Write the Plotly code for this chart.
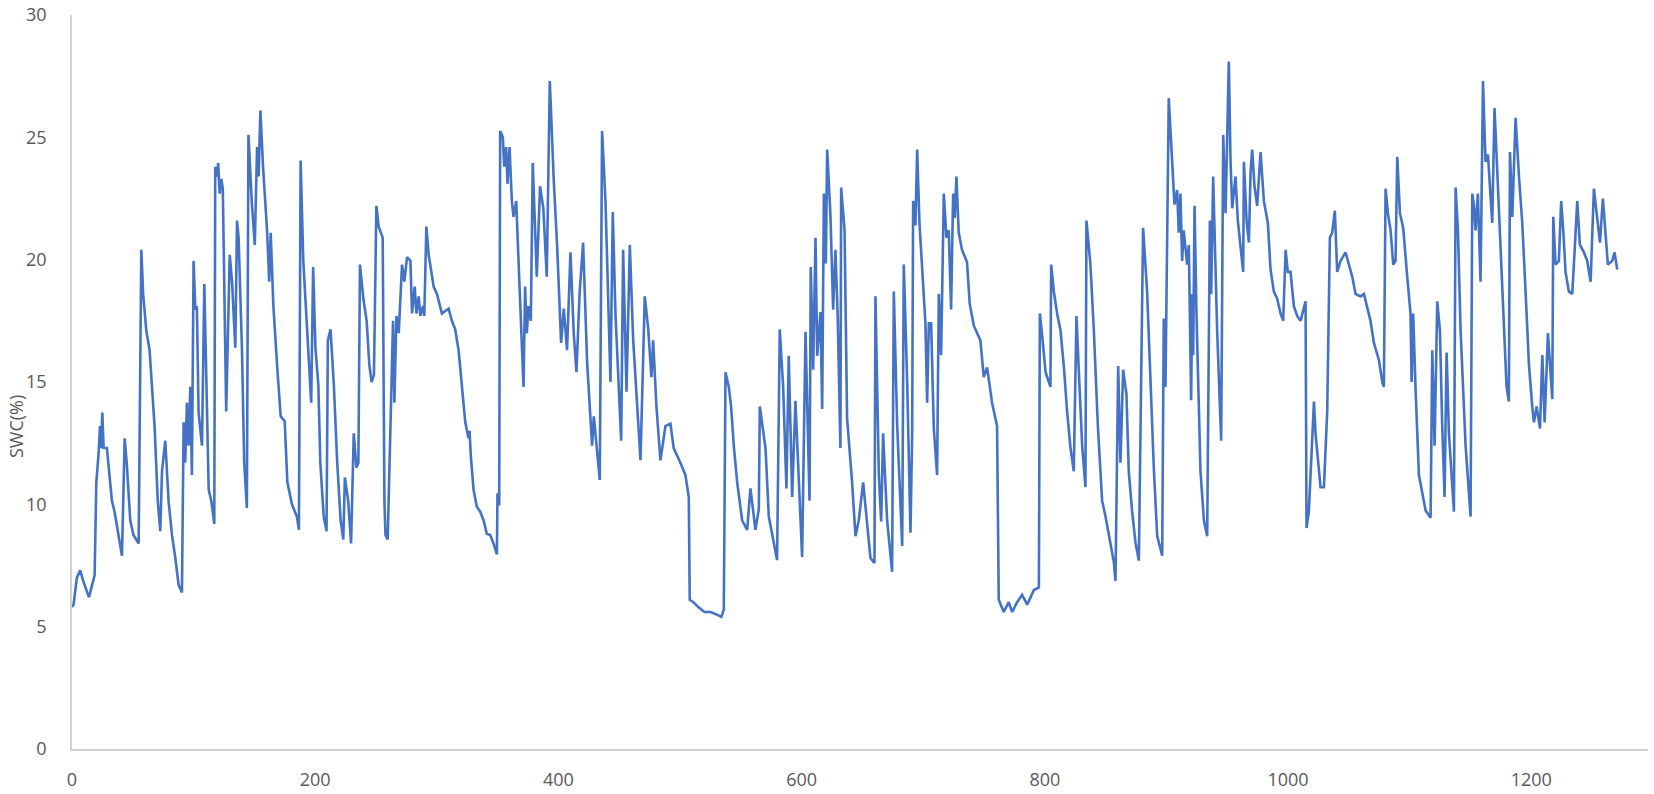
import plotly.graph_objects as go

#------------------------------------------------------------
#                          DATA
#------------------------------------------------------------
# values (day index, soil water content %)

day = [0, 1.3, 4, 6.8, 9, 12.3, 14, 16.5, 18.6, 20, 21.9, 23, 24, 24.9, 26, 28.7, 31, 32.8, 35, 38.3,
       41.1, 43.3, 45, 47.9, 50.5, 54.8, 57, 58.5, 61.1, 63.8, 67.9, 70.5, 72.6, 74, 76.7, 79.4, 82.2, 85,
       87.7, 90.4, 91.8, 93.1, 94.5, 95.9, 97.3, 98.6, 100, 101.4, 102.7, 104.1, 106.9, 108.8, 112.4, 114.5,
       117, 117.8, 119, 120.2, 121.4, 122.8, 124, 126.8, 129.7, 131.6, 134.3, 135.7, 137, 139.8, 141.6,
       143.8, 145.1, 147.8, 150.3, 152.2, 153.5, 154.9, 157.1, 160.4, 162.2, 163.4, 165.6, 168.9, 171.6,
       174.9, 177.1, 180.9, 184.9, 186.6, 188, 190.2, 192, 194.7, 196.7, 198.3, 200.2, 202.6, 204.2, 207,
       209.3, 210.4, 212.6, 215.4, 218.1, 220.9, 223.1, 224.4, 227.1, 229.5, 231.7, 233.9, 235.5, 236.8,
       239.6, 242.3, 244.5, 246.4, 248.3, 250.3, 252.2, 255.5, 256.9, 257.8, 259.6,
       264, 265.1, 266.8, 268.7, 271.4, 273.3, 275.5, 278.3, 279.6, 281.8, 283.2, 285.1, 286.4, 288.6,
       289.7, 291.4, 293.3, 297.4, 300.1, 302.8, 304.2, 306.9, 309.7, 312.4, 315.1, 317.9, 320.6, 323.4,
       326.1, 326.9, 328, 330.2, 332.9, 335.7, 338.4, 341.1, 343.9, 346.6, 349.4, 349.9, 351.3, 352.1,
       354.3, 355.4, 357, 358.1, 359.8, 361.7, 363.1, 365.3, 367.2, 368.5, 369.9, 371.3, 372.6, 374,
       375.4, 377.3, 378.9, 380.8, 382.2, 384.9, 387.6, 390.4, 392.9, 396.2, 398.9, 402.2, 404.4, 407.1,
       409.9, 412.6, 414.8, 417.5, 420.3, 423.6, 427.7, 429.1, 434, 435.9, 438.7, 442.8, 444.7, 446.9,
       451.6, 453.2, 456, 458.7, 461.5, 467.5, 471, 473.8, 476.5, 477.9, 480.6, 483.9, 488, 492.1, 494.8,
       500.3, 504.4, 507.2, 508, 511, 515, 520, 525, 530, 534, 536,
       537.4, 540.1, 542, 544.2, 547, 551.1, 555.2, 557.9, 562, 564.8, 565.6, 570.3, 573, 579.8, 582,
       584.8, 587.5, 589.4, 592.2, 594.9, 600.4, 603.2, 606.5, 607.5, 609.5, 611.4, 612.8, 615.5, 616.9,
       618.3, 619.9, 621, 623.7, 625.9, 627.8, 629.7, 631.9, 632.5, 635.3, 637.4, 641.5, 644.3, 647,
       650.6, 653.9, 656.6, 658, 659.9, 660.7, 663.5, 665.4, 667, 670.3, 674.4, 675.8, 678.6, 682.7, 684,
       686.8, 689.5, 690.9, 691.7, 693.6, 695, 696.9, 699.1, 701.8, 703.2, 704.6, 706.5, 708.7, 711.4,
       712.8, 714.7, 716.9, 719.1, 721, 722.9, 724.6, 725.9, 727.3, 729.2, 731.9, 736, 738.2, 741.6,
       744.3, 747, 749.8, 752.5, 756.6, 760.7, 762.1, 766.2, 770.3, 773.1, 777.2, 781.3, 785.5, 791,
       795.1, 795.9, 797.8, 800.6, 804.6, 805.2, 807.4, 810.1, 812.9, 815.6, 818.3, 821.1, 823.8, 826,
       827.9, 830.7, 833.4, 834.2, 837.5, 840.3, 843.6, 847.1, 849.9, 852.6, 856.7, 858.1, 860.3, 862.2,
       864.4, 867.1, 869, 871.8, 874.5, 877.3, 880.8, 884.1, 886.9, 889.6, 892.4, 896.5, 897.8, 899.2,
       901.9, 904.7, 906.6, 908.8, 910.1, 911.5, 912.9, 914.2, 917, 918.4, 919.7,
       920.3, 921.2, 922, 923.1, 924.7, 928, 930.8, 933.5, 935.7, 936.8, 938.4, 941.7, 945, 946.7, 948.6,
       951.3, 952.7, 954.1, 956.8, 958.7, 960.9, 963.1, 963.7, 965.9, 967.8, 969.2, 970.5, 972.4, 974.6,
       977.4, 980.1, 983.4, 985.6, 988.3, 991.1, 993.8, 996, 998, 999.8, 1002, 1004.8, 1007.5, 1010.3,
       1013, 1014.4, 1015.2, 1017.1, 1021.3, 1022.6, 1026.7, 1029.5, 1032.2, 1034.4, 1036.3, 1038.5,
       1040.4, 1043.2, 1047.3,
       1052.8, 1055.5, 1059.6, 1062.4, 1065.1, 1067.8, 1070.6, 1074.7, 1077.5, 1078.8, 1080.2, 1082.1,
       1084.3, 1086.5, 1088.4, 1089.8, 1092, 1094.7, 1098, 1100.7, 1101.6, 1102.9, 1104.8, 1107.6, 1113.1,
       1117.2, 1118.6, 1120.5, 1122.7, 1124.9, 1126.8, 1128.7, 1130.4, 1132.3, 1136.4, 1137.8, 1139.7,
       1141.9, 1146, 1150.1, 1151.5, 1152.8, 1154.2, 1156.1, 1158.3, 1160.3, 1162.4, 1164.4, 1166.5,
       1167.9, 1169.8, 1172, 1174.8, 1177.5, 1179.7, 1181.6,
       1182.5, 1184.4, 1185.8, 1187.1, 1189.9, 1192.6, 1195.4, 1198.1, 1200.8, 1202.2, 1204.4, 1207.2,
       1209.1, 1211, 1213.7, 1217.3, 1218.1, 1220, 1222.7, 1224.6, 1226.3, 1228.2, 1230.9, 1233.7, 1235.6,
       1237.8, 1240, 1243.3, 1246, 1248.8, 1251.5, 1254.3, 1256.5, 1258.9, 1261.1, 1263, 1266.6, 1268.5,
       1270.7]

swc = [5.8, 5.9, 7.0, 7.3, 6.9, 6.4, 6.2, 6.7, 7.1, 10.9, 12.1, 13.2, 12.3, 13.75, 12.3, 12.3, 10.9, 10.15, 9.7, 8.75,
       7.9, 12.7, 11.7, 9.35, 8.75, 8.4, 20.4, 18.6, 17.1, 16.3, 13.2, 10.15, 8.9, 11.35, 12.6, 10.15, 8.75, 7.8,
       6.7, 6.4, 13.35, 11.7, 14.15, 12.4, 14.8, 11.2, 19.95, 17.96, 18.1, 13.75, 12.4, 19.0, 10.6, 10.15,
       9.2, 23.8, 23.4, 23.95, 22.7, 23.3, 22.9, 13.8, 20.2, 19.1, 16.4, 21.6, 20.9, 16.3, 11.7,
       9.85, 25.1, 22.4, 20.6, 24.6, 23.4, 26.1, 23.8, 21.2, 19.1, 21.1, 18.1, 15.5, 13.6,
       13.4, 10.9, 10.0, 9.5, 8.96, 24.05, 19.95, 18.4, 16.3, 14.15, 19.7, 16.4, 14.85, 11.7, 9.5,
       8.9, 16.7, 17.15, 14.8, 11.7, 9.35, 8.56, 11.1, 10.15, 8.4, 12.9, 11.5, 11.7, 19.8,
       18.4, 17.5, 15.7, 15.0, 15.3, 22.2, 21.35, 20.9, 10.15, 8.75, 8.56,
       17.5, 14.15, 17.7, 17.0, 19.8, 19.1, 20.1, 19.95, 17.8, 18.9, 17.8, 18.5, 17.7, 18.1,
       17.7, 21.35, 20.2, 18.9, 18.6, 18.1, 17.8, 17.9, 18.0, 17.5, 17.15, 16.3, 14.8, 13.35,
       12.7, 13.0, 11.95, 10.6, 9.9, 9.7, 9.35, 8.8, 8.75, 8.4, 7.95, 10.45, 9.95, 25.26,
       25.0, 23.8, 24.6, 23.1, 24.6, 22.4, 21.75, 22.4, 19.95, 18.1, 16.6, 14.8, 18.9, 17.0,
       18.1, 17.5, 23.95, 20.9, 19.3, 23.0, 22.1, 19.3, 27.3, 23.2, 20.6, 16.6, 18.0, 16.3,
       20.3, 17.0, 15.4, 18.7, 20.7, 15.8, 12.4, 13.6, 11.0, 25.26, 22.4, 15.0, 21.95, 17.8,
       12.6, 20.4, 14.6, 20.6, 16.7, 11.8, 18.5, 17.2, 15.2, 16.7, 14.0, 11.8, 13.2, 13.3, 12.3,
       11.7, 11.2, 10.3, 6.1, 6.0, 5.8, 5.6, 5.6, 5.5, 5.4, 5.7,
       15.4, 14.8, 14.0, 12.4, 10.9, 9.35, 8.96, 10.65, 8.96, 9.8, 14.0, 12.3, 9.5, 7.72, 17.15,
       14.8, 10.65, 16.07, 10.3, 14.23, 7.85, 17.05, 10.15, 19.7, 15.5, 20.9, 16.07, 17.86, 13.9,
       22.7, 19.84, 24.5, 21.8, 17.96, 20.4, 17.6, 12.3, 22.95, 21.2, 13.5, 10.9, 8.7, 9.35,
       10.9, 9.1, 7.8, 7.72, 7.6, 18.5, 11.2, 9.3, 12.9, 9.35, 7.24, 18.7, 13.2, 8.3, 19.8,
       15.0, 8.84, 12.9, 22.4, 21.4, 24.5, 21.5, 19.8, 17.4, 14.15, 17.4, 17.4, 13.1, 11.2,
       18.6, 16.1, 22.7, 20.9, 21.2, 17.96, 22.7, 21.7, 23.4, 21.1, 20.4, 19.9, 18.2, 17.3,
       17.0, 16.7, 15.2, 15.6, 14.15, 13.2, 6.1, 5.6, 6.0, 5.6, 6.0, 6.3, 5.9, 6.5,
       6.6, 17.8, 16.9, 15.4, 14.8, 19.8, 18.7, 17.8, 17.1, 15.65, 13.8, 12.3, 11.35, 17.7,
       15.5, 12.4, 10.7, 21.6, 19.8, 17.1, 13.2, 10.15, 9.5, 8.7, 7.65, 6.87, 15.65, 11.7,
       15.5, 14.5, 11.35, 9.7, 8.45, 7.7, 21.3, 18.7, 15.0, 11.5, 8.7, 7.9, 17.6, 14.8,
       26.6, 23.95, 22.25, 22.85, 21.1, 22.7, 19.95, 21.2, 19.8, 20.6, 14.3,
       14.25, 18.6, 16.1, 22.2, 17.8, 11.35, 9.35, 8.7, 21.6, 18.6, 23.4, 17.1, 12.6, 25.1, 21.9,
       28.1, 24.0, 22.1, 23.4, 21.6, 20.4, 19.5, 24.0, 21.6, 20.7, 23.6, 24.5, 23.0, 22.2,
       24.4, 22.4, 21.5, 19.6, 18.7, 18.4, 17.8, 17.5, 20.4, 19.5, 19.5, 18.1, 17.7, 17.5,
       18.1, 18.3, 9.03, 9.7, 14.2, 12.9, 10.7, 10.7, 13.8, 20.9, 21.1, 22.0,
       19.5, 19.95, 20.3,
       19.3, 18.6, 18.5, 18.6, 18.1, 17.5, 16.6, 15.9, 15.0, 14.8, 22.9, 21.9,
       21.2, 19.8, 19.95, 24.2, 21.9, 21.3, 19.3, 17.8, 15.0, 17.8, 14.8, 11.2, 9.75,
       9.45, 16.3, 12.4, 18.3, 17.1, 13.2, 10.3, 16.2, 12.9, 9.7, 22.95, 21.2,
       17.1, 12.4, 9.5, 22.7, 22.25, 21.2, 22.7, 19.1, 27.3, 24.0, 24.3, 22.6,
       21.5, 26.2, 23.6, 20.9, 17.8, 14.8, 14.2,
       24.4, 21.75, 24.0, 25.8, 23.4, 21.5, 18.6, 15.7, 14.0, 13.35, 14.0, 13.1,
       16.1, 13.35, 17.0, 14.3, 21.75, 19.8, 19.95, 22.4, 21.2, 19.5, 18.7, 18.6, 20.3,
       22.4, 20.6, 20.3, 19.95, 19.1, 22.9, 21.5, 20.7, 22.5, 20.9, 19.8, 19.95, 20.3,
       19.6]

x_ticks = [0, 200, 400, 600, 800, 1000, 1200]
y_ticks = [0, 5, 10, 15, 20, 25, 30]
y_title = 'SWC(%)'

#------------------------------------------------------------
#                       PLOTTING
#------------------------------------------------------------
font_family = "Open Sans, Liberation Sans, sans-serif"
grey_text = '#595959'
axis_grey = '#d0d0d0'

fig = go.Figure()

fig.add_trace(go.Scatter(
    x=day,
    y=swc,
    mode='lines',
    line=dict(color='#4472C4', width=2.6),
    showlegend=False,
))

fig.update_layout(
    width=1654,
    height=794,
    plot_bgcolor='white',
    paper_bgcolor='white',
    margin=dict(l=72, r=6, t=15, b=45),
    font=dict(family=font_family, size=18, color=grey_text),
)

fig.update_xaxes(
    range=[0, 1296],
    tickvals=x_ticks,
    showgrid=False,
    zeroline=False,
    showline=True,
    linecolor=axis_grey,
    linewidth=1.5,
    ticks='',
    ticklabelstandoff=14,
    automargin=False,
    tickfont=dict(size=18, color=grey_text),
)

fig.update_yaxes(
    range=[0, 30],
    tickvals=y_ticks,
    showgrid=False,
    zeroline=False,
    showline=True,
    linecolor=axis_grey,
    linewidth=1.5,
    ticks='',
    ticklabelstandoff=20,
    automargin=False,
    tickfont=dict(size=18, color=grey_text),
)

# y axis title sits low and overlaps the tick labels in the original
fig.add_annotation(
    text=y_title,
    xref='paper', yref='paper',
    x=-0.0355, y=0.4387,
    xanchor='center', yanchor='middle',
    textangle=-90,
    showarrow=False,
    font=dict(size=18, color=grey_text, family=font_family),
)

# drop the default 8px body margin so the figure fills the window exactly
fig.write_html("out.html", config={'displayModeBar': False},
               post_script="document.body.style.margin='0';")
